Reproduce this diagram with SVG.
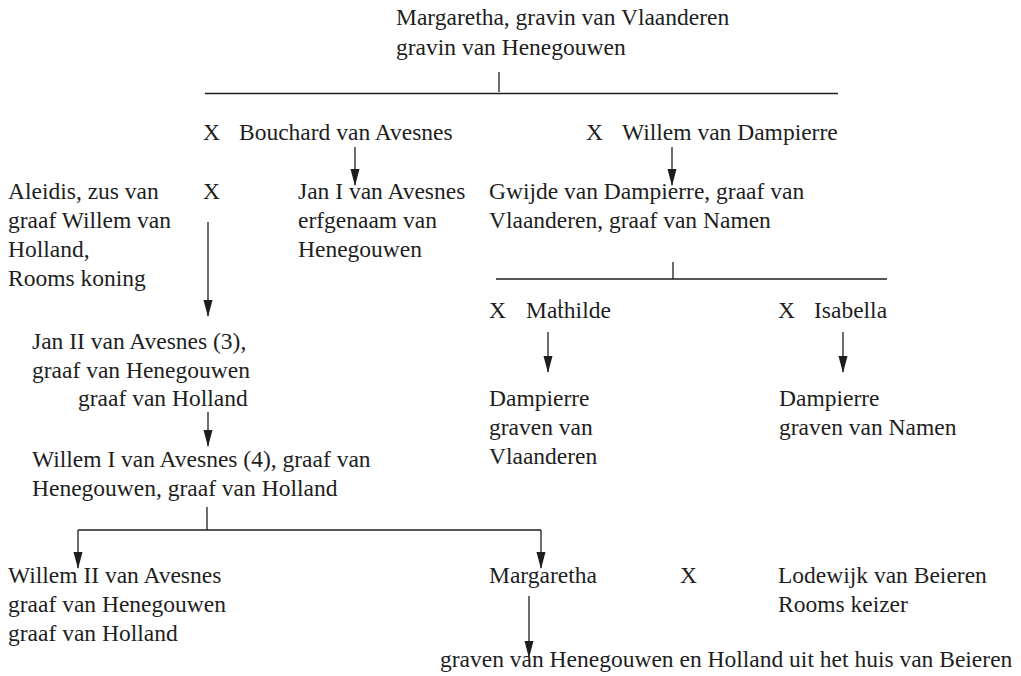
<svg xmlns="http://www.w3.org/2000/svg" width="1021" height="676" viewBox="0 0 1021 676">
<style>
text{font-size:23.5px;fill:#1e1e1e}
.c line{stroke:#1e1e1e;stroke-width:1.3;fill:none}
.a{marker-end:url(#ah)}
</style>
<defs>
<marker id="ah" viewBox="0 0 17 10" refX="16" refY="5" markerWidth="17" markerHeight="10" markerUnits="userSpaceOnUse" orient="auto">
<path d="M0,0.5 L17,5 L0,9.5 Z" fill="#1e1e1e"/>
</marker>
</defs>
<rect width="1021" height="676" fill="#fff"/>
<g class="c" id="connectors">
<line x1="499" y1="72" x2="499" y2="92"/>
<line x1="205" y1="93.5" x2="838" y2="93.5"/>
<line class="a" x1="355" y1="147" x2="355" y2="185"/>
<line class="a" x1="672" y1="147" x2="672" y2="185"/>
<line class="a" x1="208" y1="222" x2="208" y2="316"/>
<line x1="673" y1="262" x2="673" y2="279"/>
<line x1="496" y1="279" x2="887" y2="279"/>
<line x1="560" y1="299" x2="560" y2="306"/>
<line class="a" x1="548" y1="332" x2="548" y2="372"/>
<line class="a" x1="843" y1="332" x2="843" y2="372"/>
<line class="a" x1="208" y1="412" x2="208" y2="446"/>
<line x1="207" y1="507" x2="207" y2="530"/>
<line x1="78" y1="530" x2="541" y2="530"/>
<line class="a" x1="78" y1="530" x2="78" y2="568"/>
<line class="a" x1="541" y1="530" x2="541" y2="568"/>
<line class="a" x1="529" y1="596" x2="529" y2="657"/>
</g>
<g font-family="'Liberation Serif', 'DejaVu Serif', serif" style="font-family:'Liberation Serif','DejaVu Serif',serif">
<g id="margaretha"><text x="396" y="25">Margaretha, gravin van Vlaanderen</text><text x="396" y="55">gravin van Henegouwen</text></g>
<g id="bouchard"><text x="203" y="140">X</text><text x="239" y="140">Bouchard van Avesnes</text></g>
<g id="willem-dampierre"><text x="586" y="140">X</text><text x="622" y="140">Willem van Dampierre</text></g>
<g id="aleidis"><text x="8" y="199">Aleidis, zus van</text><text x="8" y="228">graaf Willem van</text><text x="8" y="257">Holland,</text><text x="8" y="286">Rooms koning</text></g>
<g id="x-aleidis"><text x="203" y="199">X</text></g>
<g id="jan1"><text x="298" y="199">Jan I van Avesnes</text><text x="298" y="228">erfgenaam van</text><text x="298" y="257">Henegouwen</text></g>
<g id="gwijde"><text x="489" y="199">Gwijde van Dampierre, graaf van</text><text x="489" y="228">Vlaanderen, graaf van Namen</text></g>
<g id="mathilde"><text x="489" y="318">X</text><text x="526" y="318">Mathilde</text></g>
<g id="isabella"><text x="778" y="318">X</text><text x="814" y="318">Isabella</text></g>
<g id="dampierre-vl"><text x="489" y="406">Dampierre</text><text x="489" y="435">graven van</text><text x="489" y="464">Vlaanderen</text></g>
<g id="dampierre-na"><text x="779" y="406">Dampierre</text><text x="779" y="435">graven van Namen</text></g>
<g id="jan2"><text x="32" y="349">Jan II van Avesnes (3),</text><text x="32" y="378">graaf van Henegouwen</text><text x="78" y="406">graaf van Holland</text></g>
<g id="willem1"><text x="32" y="467">Willem I van Avesnes (4), graaf van</text><text x="32" y="496">Henegouwen, graaf van Holland</text></g>
<g id="willem2"><text x="8" y="583">Willem II van Avesnes</text><text x="8" y="612">graaf van Henegouwen</text><text x="8" y="641">graaf van Holland</text></g>
<g id="margaretha2"><text x="489" y="583">Margaretha</text></g>
<g id="x-lodewijk"><text x="680" y="583">X</text></g>
<g id="lodewijk"><text x="778" y="583">Lodewijk van Beieren</text><text x="778" y="612">Rooms keizer</text></g>
<g id="beieren"><text x="440" y="667">graven van Henegouwen en Holland uit het huis van Beieren</text></g>
</g>
</svg>
